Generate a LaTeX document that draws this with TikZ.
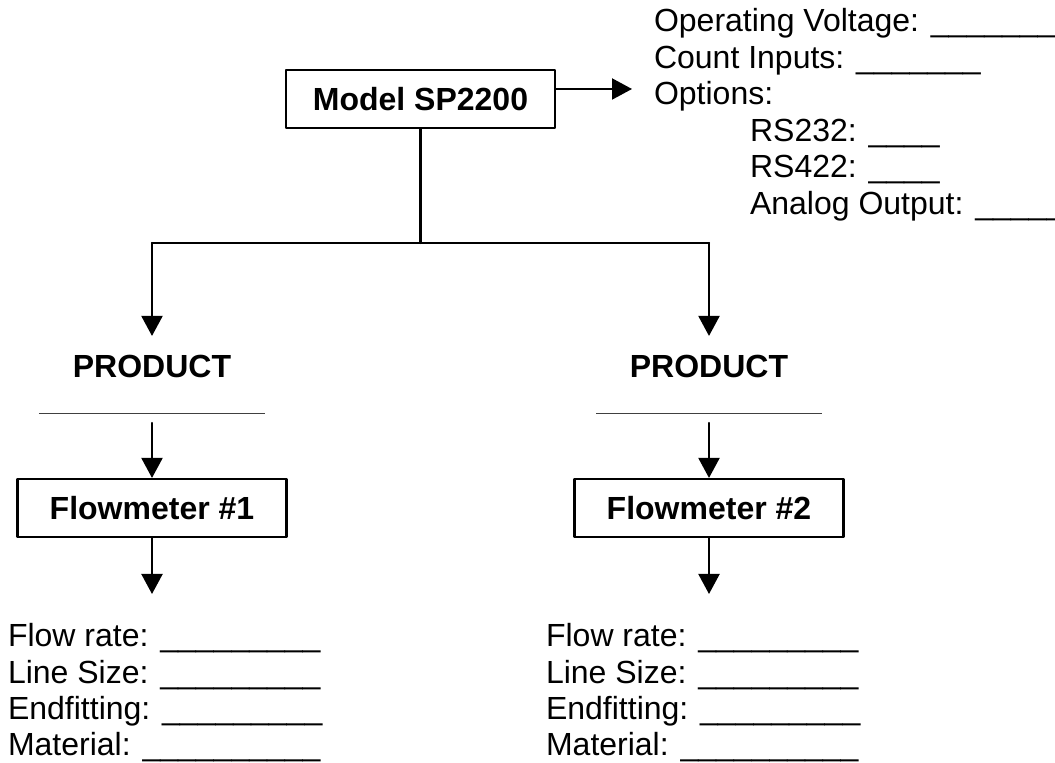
\documentclass[tikz,border=0pt]{standalone}
\usepackage{fontspec}
\setmainfont{Liberation Sans}
\usepackage{pgf,tikz}
\usetikzlibrary{arrows.meta}
\newcommand{\bigf}{\fontsize{16}{18}\selectfont}
\tikzset{box/.style={draw,font=\bigf\bfseries,minimum width=134.5pt,minimum height=29pt,inner sep=0pt},
prod/.style={font=\bigf\bfseries,anchor=base,text height=11.5pt,text depth=0pt,inner xsep=0pt,inner ysep=9pt},
blankline/.style={inner sep=0pt,outer ysep=4pt},
item/.style={font=\bigf,anchor=base west,inner sep=0pt}}

\begin{document}
\begin{tikzpicture}[line cap=round,line join=round,>={Triangle[length=10pt,width=10.5pt]},x=0.5pt,y=-0.5pt,line width=1.05pt]
\useasboundingbox (0,0) rectangle (1055,763);
\node[box] (model) at (420.5,99) {Model SP2200};
\coordinate (optA) at (632,89);
\draw[->] (model.east |- optA) -- (optA);
\foreach \t/\x/\y [count=\i] in {Operating Voltage: \_\_\_\_\_\_\_/653/32,Count Inputs: \_\_\_\_\_\_\_/653/68.5,Options:/653/105,RS232: \_\_\_\_/749/141.5,RS422: \_\_\_\_/749/178,Analog Output: \_\_\_\_\_/749/214.5}
\node[item] (opt\i) at (\x,\y) {\t};
\coordinate (jn) at (420.5,243);
\coordinate (jl) at (152,243);
\coordinate (jr) at (709,243);
\draw (model) -- (jn);
\draw (jl) -- (jr);
\node[prod] (prodA) at (152,378) {PRODUCT};
\node[prod] (prodB) at (709,378) {PRODUCT};
\draw[->] (jl) -- (prodA);
\draw[->] (jr) -- (prodB);
\node[blankline] (lineA) at (152,414) {\color{black!75}\rule{113pt}{0.5pt}};
\node[blankline] (lineB) at (709,414) {\color{black!75}\rule{113pt}{0.5pt}};
\node[box] (flowA) at (152,508) {Flowmeter \#1};
\node[box] (flowB) at (709,508) {Flowmeter \#2};
\draw[->] (lineA) -- (flowA);
\draw[->] (lineB) -- (flowB);
\coordinate (endA) at (152,594);
\coordinate (endB) at (709,594);
\draw[->] (flowA) -- (endA);
\draw[->] (flowB) -- (endB);
\foreach \t [count=\i] in {Flow rate: \_\_\_\_\_\_\_\_\_,Line Size: \_\_\_\_\_\_\_\_\_,Endfitting: \_\_\_\_\_\_\_\_\_,Material: \_\_\_\_\_\_\_\_\_\_}
{\node[item] (fA\i) at (7,{610.7+36.3*\i}) {\t};
\node[item] (fB\i) at (545,{610.7+36.3*\i}) {\t};}

\end{tikzpicture}
\end{document}
